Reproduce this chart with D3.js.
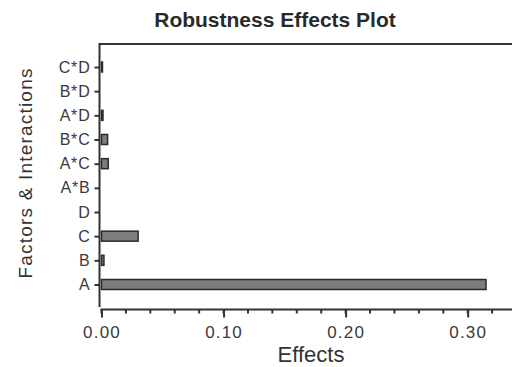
<!DOCTYPE html>
<html>
<head>
<meta charset="utf-8">
<script src="https://cdn.jsdelivr.net/npm/d3@7"></script>
<style>
	body { margin: 0; background: #fff; }
	svg { display: block; }
	svg text { font-family: "Liberation Sans", Arial, sans-serif; }
	.axis path, .axis line { stroke: #333; stroke-width: 2; }
	.axis text { fill: #3a3a3a; }
</style>
</head>
<body>
<script>
// factors, bottom to top as drawn
let factors = ["A", "B", "C", "D", "A*B", "A*C", "B*C", "A*D", "B*D", "C*D"];
let effects = [0.315, 0.002, 0.030, 0, 0, 0.0055, 0.005, 0.0012, 0, 0.0008];
let xTicks = [0, 0.1, 0.2, 0.3];

let width = 512, height = 367;

let svg = d3.select("body").append("svg")
	.attr("width", width)
	.attr("height", height);

let xScale = d3.scaleLinear().domain([0, 0.3]).range([101.5, 467.7]);
let yScale = d3.scalePoint().domain(factors).range([284.5, 67]);

let data = factors.map(function(f, i) { return {name: f, value: effects[i]}; });

// frame top line
svg.append("line")
	.attr("x1", 99.5).attr("x2", width)
	.attr("y1", 44).attr("y2", 44)
	.attr("stroke", "#333").attr("stroke-width", 2);

// bars
svg.selectAll(".bar")
		.data(data.filter(function(d) { return d.value > 0; }))
	.enter().append("rect")
		.attr("class", "bar")
		.attr("x", xScale(0))
		.attr("y", function(d) { return yScale(d.name) - 5; })
		.attr("width", function(d) { return Math.max(0.5, xScale(d.value) - xScale(0)); })
		.attr("height", 10)
		.attr("fill", "#7d7d7d")
		.attr("stroke", "#2b2b2b")
		.attr("stroke-width", 1.5);

// y axis
let yAxis = svg.append("g")
	.attr("class", "axis")
	.attr("transform", "translate(99.5,0)")
	.call(d3.axisLeft(yScale).tickSize(5).tickPadding(4));
yAxis.select(".domain").attr("d", "M0,43V307");
yAxis.selectAll("line").attr("stroke-width", 1.3);
yAxis.selectAll("text")
	.attr("font-size", 16)
	.attr("letter-spacing", "0.8px");
yAxis.attr("font-family", null).attr("font-size", null);

// x axis: minor ticks every 0.02, labels every 0.1
let minor = d3.range(0, 0.33, 0.02);
let xAxisG = svg.append("g")
	.attr("class", "axis")
	.attr("transform", "translate(0,309.5)");
xAxisG.append("line")
	.attr("x1", xScale(0) - 1).attr("x2", width)
	.attr("stroke", "#333").attr("stroke-width", 2);
xAxisG.selectAll(".minor")
		.data(minor)
	.enter().append("line")
		.attr("class", "minor")
		.attr("x1", function(d) { return xScale(d); })
		.attr("x2", function(d) { return xScale(d); })
		.attr("y1", 0).attr("y2", 4)
		.attr("stroke-width", 1.5);
let xAxis = xAxisG.append("g")
	.call(d3.axisBottom(xScale).tickValues(xTicks).tickSize(8).tickPadding(8)
		.tickFormat(d3.format(".2f")))
	.call(function(g) { g.select(".domain").remove(); });
xAxis.attr("font-family", null).attr("font-size", null);
xAxis.selectAll("line").attr("stroke-width", 1.5);
xAxis.selectAll("text").attr("font-size", 17).attr("letter-spacing", "1.2px");

// title
svg.append("text")
	.attr("x", 275).attr("y", 27)
	.attr("text-anchor", "middle")
	.attr("font-weight", "bold")
	.attr("font-size", 21)
	.attr("fill", "#2a2a2a")
	.text("Robustness Effects Plot");

// axis labels
svg.append("text")
	.attr("x", 311).attr("y", 361.5)
	.attr("text-anchor", "middle")
	.attr("font-size", 22)
	.attr("fill", "#333")
	.text("Effects");

svg.append("text")
	.attr("transform", "translate(32,173) rotate(-90)")
	.attr("text-anchor", "middle")
	.attr("font-size", 19)
	.attr("letter-spacing", "1.2px")
	.attr("fill", "#333")
	.text("Factors & Interactions");
</script>
</body>
</html>
